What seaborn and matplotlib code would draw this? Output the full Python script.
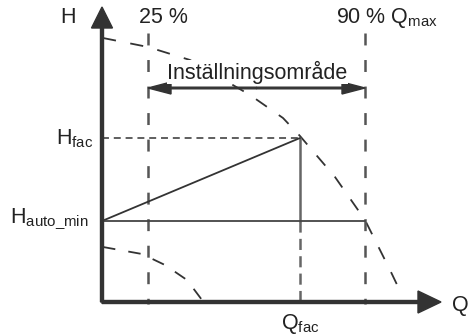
"""
Pumpkurva: inställningsområde för H_fac / Q_fac
"""

import numpy as np
import matplotlib
import matplotlib.pyplot as plt
import seaborn as sns
import pandas as pd

sns.set_style("white")
plt.rcParams['font.family'] = ['Liberation Sans', 'DejaVu Sans']
plt.rcParams['mathtext.fontset'] = 'custom'
plt.rcParams['mathtext.rm'] = 'Liberation Sans'
plt.rcParams['lines.scale_dashes'] = False

# ========== data (schematiska enheter) ==========
# övre pumpkurva (max)
curve_max_q = [1, 46, 88, 148, 181, 198, 233, 263, 288, 299]
curve_max_h = [264, 255, 242, 207, 184, 166, 125, 82, 32, 9]
# nedre pumpkurva (min)
curve_min_q = [1, 40, 63, 85, 100]
curve_min_h = [55, 48, 37, 22, 2]

q_25 = 46        # 25 %
q_90 = 263       # 90 % Qmax
q_fac = 198
h_fac = 164
h_auto_min = 81
h_range = 214    # pil för inställningsområde
h_top = 269      # topp för streckade linjer
q_axis_end = 339
h_axis_end = 295

TXT = '#222222'
AX = '#333333'
# ===============================================

fig = plt.figure(figsize=(4.68, 3.36), dpi=100)
ax = fig.add_axes([0, 0, 1, 1])
ax.set_xlim(-102, 366)
ax.set_ylim(-34, 302)
ax.set_axis_off()

# pumpkurvor
df_max = pd.DataFrame({'Q': curve_max_q, 'H': curve_max_h})
df_min = pd.DataFrame({'Q': curve_min_q, 'H': curve_min_h})
sns.lineplot(data=df_max, x='Q', y='H', ax=ax, sort=False, color='#333333',
             lw=1.3, linestyle=(0, (9.5, 10.5)), zorder=2)
sns.lineplot(data=df_min, x='Q', y='H', ax=ax, sort=False, color='#333333',
             lw=1.3, linestyle=(0, (9, 9.5)), zorder=2)

# streckade gränslinjer 25 % och 90 %
for q in [q_25, q_90]:
    ax.plot([q, q], [h_top, -2], color='#555555', lw=1.8,
            linestyle=(0, (8.6, 10.5)), zorder=2)

# H_fac punktlinje
ax.plot([0, q_fac], [h_fac, h_fac], color='#333333', lw=1.1,
        linestyle=(0, (5, 3.5)), zorder=2)
# Q_fac lodlinje
ax.plot([q_fac, q_fac], [h_fac, h_auto_min], color='#666666', lw=1.8, zorder=3)
ax.plot([q_fac, q_fac], [h_auto_min, 0], color='#666666', lw=1.8,
        linestyle=(0, (8, 4.5)), zorder=2)
# reglerlinje och H_auto_min
ax.plot([0, q_fac], [h_auto_min, h_fac], color='#333333', lw=1.3, zorder=3)
ax.plot([0, q_90], [h_auto_min, h_auto_min], color='#444444', lw=1.3, zorder=3)

# axlar med pilar
ax.arrow(0, 0, q_axis_end, 0, width=3, head_width=22, head_length=23,
         length_includes_head=True, color=AX, zorder=4)
ax.arrow(0, 0, 0, h_axis_end, width=3, head_width=21, head_length=21,
         length_includes_head=True, color=AX, zorder=4)

# inställningsområde
mid = (q_25 + q_90) / 2
for end in [q_25, q_90]:
    ax.arrow(mid, h_range, end - mid, 0, width=1.6, head_width=12, head_length=23,
             length_includes_head=True, color='#333333', zorder=4)
fs = 15.5
ax.text(mid + 1, h_range + 16, 'Inställningsområde', fontsize=fs, color=TXT,
        ha='center', va='center', zorder=5,
        bbox=dict(facecolor='white', edgecolor='none', pad=0.5))

# etiketter
ax.text(-34, 279, 'H', fontsize=fs, color=TXT, ha='center', va='baseline')
ax.text(q_25 - 9, 279, '25 %', fontsize=fs, color=TXT, ha='left', va='baseline')
ax.text(q_90 - 29, 279, r'90 % $\mathrm{Q}_\mathrm{max}$', fontsize=fs, color=TXT,
        ha='left', va='baseline')
ax.text(-9, h_fac - 6, r'$\mathrm{H}_\mathrm{fac}$', fontsize=fs, color=TXT,
        ha='right', va='baseline')
ax.text(-13, h_auto_min - 2, r'$\mathrm{H}_\mathrm{auto\_min}$', fontsize=fs, color=TXT,
        ha='right', va='baseline')
ax.text(q_axis_end + 11, -9, 'Q', fontsize=fs, color=TXT, ha='left', va='baseline')
ax.text(q_fac - 19, -27, r'$\mathrm{Q}_\mathrm{fac}$', fontsize=fs, color=TXT,
        ha='left', va='baseline')

plt.savefig('out.png', dpi=100, facecolor='white')
plt.close()
